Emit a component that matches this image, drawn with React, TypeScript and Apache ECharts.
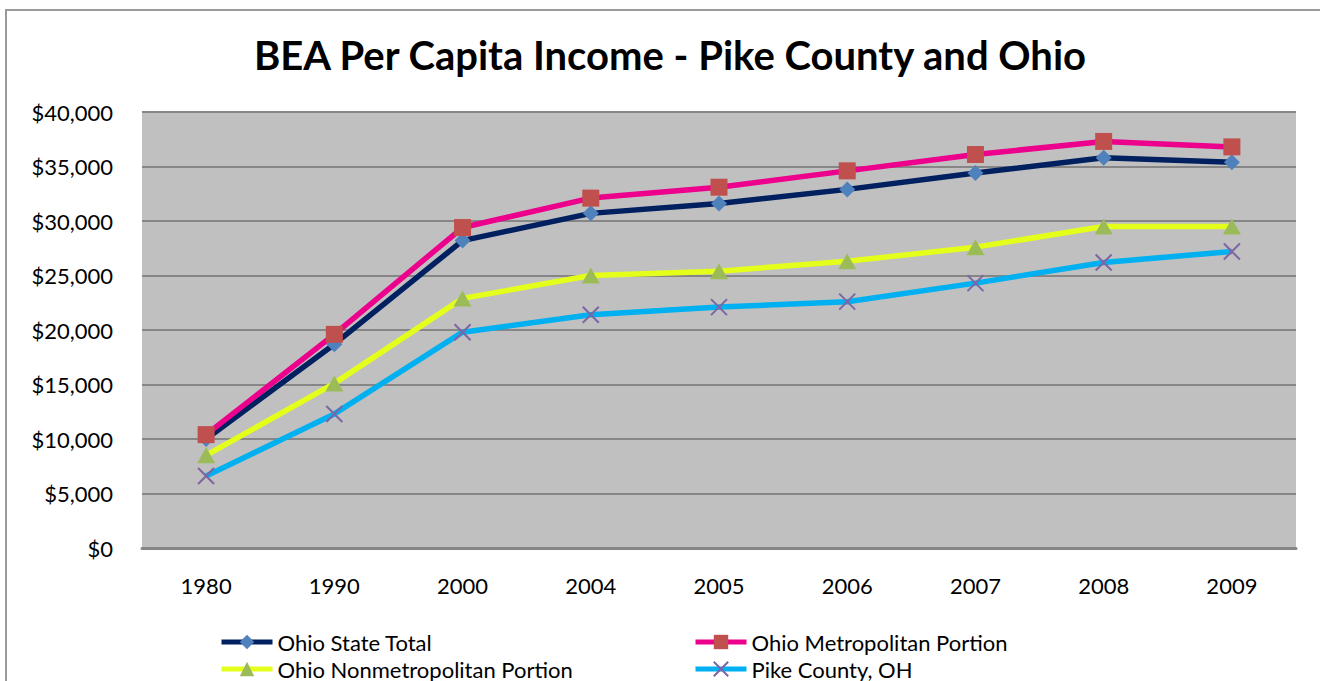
import React, { useEffect, useRef } from "react";
import * as echarts from "echarts";

const years = ["1980", "1990", "2000", "2004", "2005", "2006", "2007", "2008", "2009"];
const ohioStateTotal = [10000, 18700, 28200, 30700, 31600, 32900, 34400, 35800, 35400];
const ohioMetro = [10400, 19600, 29400, 32100, 33100, 34600, 36100, 37300, 36800];
const ohioNonmetro = [8500, 15100, 22900, 25000, 25400, 26300, 27600, 29500, 29500];
const pikeCounty = [6600, 12300, 19800, 21400, 22100, 22600, 24300, 26200, 27200];

const FONT = "Lato";
const crossPath = "path://M0,0L10,10M10,0L0,10";

export default function App() {
  const ref = useRef<HTMLDivElement>(null);
  useEffect(() => {
    const chart = echarts.init(ref.current!, null, { renderer: "svg" });
    const legendBase = {
      orient: "horizontal",
      itemWidth: 51,
      itemHeight: 18,
      itemGap: 4,
      lineStyle: { width: 5 },
      textStyle: { fontFamily: FONT, fontSize: 22, color: "#000" },
      selectedMode: false,
    };
    chart.setOption({
      animation: false,
      backgroundColor: "#fff",
      textStyle: { fontFamily: FONT },
      title: {
        text: "BEA Per Capita Income - Pike County and Ohio",
        left: 665,
        textAlign: "center",
        top: 30,
        textStyle: { fontFamily: FONT, fontSize: 40, fontWeight: "bold", color: "#000" },
      },
      graphic: [
        {
          type: "rect",
          shape: { x: 6, y: 10, width: 1400, height: 800 },
          style: { fill: "none", stroke: "#9a9a9a", lineWidth: 2 },
          silent: true,
          z: -10,
        },
      ],
      grid: { left: 142, right: 24, top: 112, height: 436, backgroundColor: "#C0C0C0", show: true, borderWidth: 0 },
      xAxis: {
        type: "category",
        data: years,
        boundaryGap: true,
        axisLine: { lineStyle: { color: "#868686", width: 3 } },
        axisTick: { show: false },
        axisLabel: { fontFamily: FONT, fontSize: 22, color: "#000", margin: 26 },
      },
      yAxis: {
        type: "value",
        min: 0,
        max: 40000,
        interval: 5000,
        axisLine: { show: false },
        axisTick: { show: false },
        splitLine: { lineStyle: { color: "#868686", width: 2 } },
        axisLabel: {
          fontFamily: FONT,
          fontSize: 22,
          color: "#000",
          margin: 29,
          formatter: (v: number) => "$" + v.toLocaleString("en-US"),
        },
      },
      legend: [
        { ...legendBase, data: ["Ohio State Total"], left: 214, top: 626 },
        { ...legendBase, data: ["Ohio Metropolitan Portion"], left: 688, top: 626 },
        { ...legendBase, data: ["Ohio Nonmetropolitan Portion"], left: 214, top: 653 },
        { ...legendBase, data: ["Pike County, OH"], left: 688, top: 653 },
      ],
      series: [
        {
          name: "Pike County, OH",
          type: "line",
          data: pikeCounty,
          symbol: crossPath,
          symbolSize: 16,
          lineStyle: { color: "#00B0F0", width: 5.5 },
          itemStyle: { color: "rgba(0,0,0,0)", borderColor: "#7F64A4", borderWidth: 2 },
          z: 2,
        },
        {
          name: "Ohio Nonmetropolitan Portion",
          type: "line",
          data: ohioNonmetro,
          symbol: "triangle",
          symbolSize: [18, 16],
          lineStyle: { color: "#E3FF1A", width: 5.5 },
          itemStyle: { color: "#9BBB59" },
          z: 3,
        },
        {
          name: "Ohio State Total",
          type: "line",
          data: ohioStateTotal,
          symbol: "diamond",
          symbolSize: [16, 16],
          lineStyle: { color: "#002060", width: 5.5 },
          itemStyle: { color: "#4F81BD" },
          z: 4,
        },
        {
          name: "Ohio Metropolitan Portion",
          type: "line",
          data: ohioMetro,
          symbol: "rect",
          symbolSize: 17,
          lineStyle: { color: "#EC008C", width: 5.5 },
          itemStyle: { color: "#C0504D" },
          z: 5,
        },
      ],
    });
    return () => chart.dispose();
  }, []);
  return (
    <div style={{ position: "fixed", left: 0, top: 0, width: 1320, height: 681 }}>
      <div ref={ref} style={{ width: 1320, height: 681 }} />
    </div>
  );
}
